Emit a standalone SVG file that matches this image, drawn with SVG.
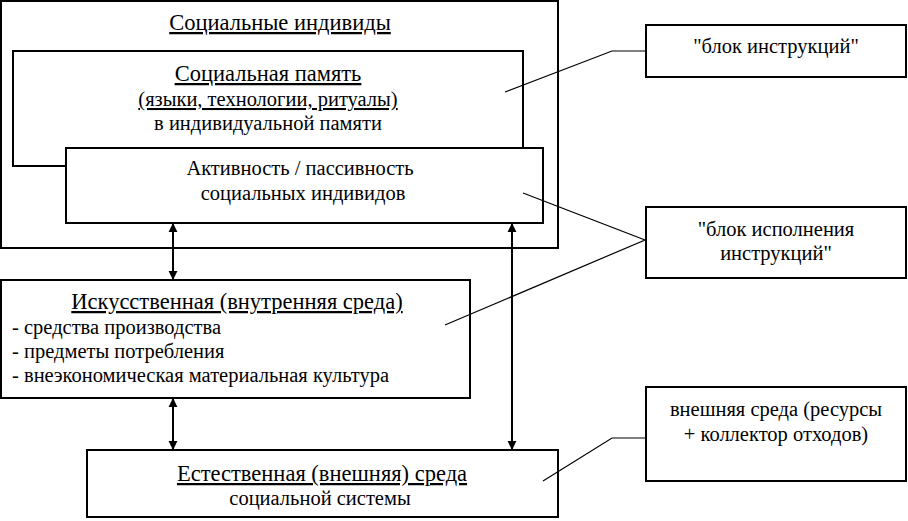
<svg xmlns="http://www.w3.org/2000/svg" width="908" height="521" viewBox="0 0 908 521">
<defs>
<style>
.box{fill:#fff;stroke:#000;stroke-width:2}
.ln{fill:none;stroke:#000;stroke-width:1.2}
.ar{fill:none;stroke:#000;stroke-width:2}
.c{text-anchor:middle}
.u{text-decoration:underline}
</style>
<marker id="ah" viewBox="0 0 10 10" refX="9" refY="5" markerWidth="9" markerHeight="11" markerUnits="userSpaceOnUse" orient="auto-start-reverse">
<path d="M0,0 L10,5 L0,10 Z" fill="#000"/>
</marker>
</defs>
<g font-family="Liberation Serif, Times New Roman, serif" font-size="20.5" fill="#000">
<g id="social-individuals">
<rect class="box" x="1" y="1" width="557" height="247"/>
<text class="c u" font-size="22.5" x="280" y="30">Социальные индивиды</text>
</g>
<g id="social-memory">
<rect class="box" x="13" y="51" width="510" height="115"/>
<text class="c u" font-size="22.5" x="268" y="81">Социальная память</text>
<text class="c u" x="268" y="106">(языки, технологии, ритуалы)</text>
<text class="c" x="268" y="130">в индивидуальной памяти</text>
</g>
<g id="activity">
<rect class="box" x="66" y="148" width="477" height="75"/>
<text class="c" x="300" y="175">Активность / пассивность</text>
<text class="c" x="303" y="200">социальных индивидов</text>
</g>
<g id="artificial-env">
<rect class="box" x="1" y="280" width="469" height="118"/>
<text class="c u" font-size="22.5" x="237" y="309">Искусственная (внутренняя среда)</text>
<text x="12" y="334">- средства производства</text>
<text x="12" y="358">- предметы потребления</text>
<text x="12" y="382">- внеэкономическая материальная культура</text>
</g>
<g id="natural-env">
<rect class="box" x="87" y="450" width="471" height="67"/>
<text class="c u" font-size="22.5" x="322" y="481">Естественная (внешняя) среда</text>
<text class="c" x="320" y="505">социальной системы</text>
</g>
<g id="instr-block">
<rect class="box" x="646" y="25" width="260" height="52"/>
<text class="c" x="776" y="53">"блок инструкций"</text>
</g>
<g id="exec-block">
<rect class="box" x="646" y="207" width="260" height="71"/>
<text class="c" x="776" y="236">"блок исполнения</text>
<text class="c" x="776" y="260">инструкций"</text>
</g>
<g id="ext-env">
<rect class="box" x="646" y="387" width="260" height="94"/>
<text class="c" x="776" y="416">внешняя среда (ресурсы</text>
<text class="c" x="776" y="441">+ коллектор отходов)</text>
</g>
</g>
<g id="connectors">
<line class="ar" x1="173" y1="224" x2="173" y2="279" marker-start="url(#ah)" marker-end="url(#ah)"/>
<line class="ar" x1="173" y1="399" x2="173" y2="449" marker-start="url(#ah)" marker-end="url(#ah)"/>
<line class="ar" x1="512" y1="224" x2="512" y2="449" marker-start="url(#ah)" marker-end="url(#ah)"/>
<polyline class="ln" points="505,92 612,51 646,51"/>
<polyline class="ln" points="523,193 645,240 445,325"/>
<polyline class="ln" points="543,481 612,438 646,438"/>
</g>
</svg>
